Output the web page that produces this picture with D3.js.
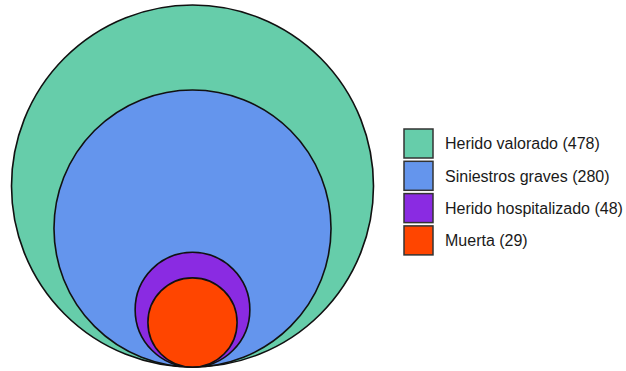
<!DOCTYPE html>
<html>
<head>
<meta charset="utf-8">
<script src="https://cdn.jsdelivr.net/npm/d3@7"></script>
<style>
  html, body { margin: 0; padding: 0; background: #fff; }
  svg { display: block; }
</style>
</head>
<body>
<svg id="chart" width="626" height="371"></svg>
<script>
// Nested, bottom-aligned circles: area proportional to each count
const categories = ["Herido valorado", "Siniestros graves", "Herido hospitalizado", "Muerta"];
const values = [478, 280, 48, 29];
const colors = ["#66CDAA", "#6495ED", "#8A2BE2", "#FF4500"];

const svg = d3.select("#chart");

const baseY = 367;      // shared bottom tangent
const centerX = 192.5;
const maxR = 181;

const r = d3.scaleSqrt()
  .domain([0, d3.max(values)])
  .range([0, maxR]);

const data = categories.map((c, i) => ({ name: c, value: values[i], color: colors[i] }));

svg.append("g")
  .selectAll("circle")
  .data(data)
  .join("circle")
  .attr("cx", centerX)
  .attr("cy", d => baseY - r(d.value))
  .attr("r", d => r(d.value))
  .attr("fill", d => d.color)
  .attr("stroke", "#111")
  .attr("stroke-width", 1.6);

// Legend
const legend = svg.append("g").attr("transform", "translate(404,129)");
const rowH = 32.3;
const rows = legend.selectAll("g")
  .data(data)
  .join("g")
  .attr("transform", (d, i) => `translate(0,${i * rowH})`);

rows.append("rect")
  .attr("width", 29)
  .attr("height", 29)
  .attr("fill", d => d.color)
  .attr("stroke", "#333")
  .attr("stroke-width", 1.5);

rows.append("text")
  .attr("x", 41)
  .attr("y", 14.5)
  .attr("dy", "0.36em")
  .attr("font-family", "Liberation Sans, Arial, sans-serif")
  .attr("font-size", 16)
  .attr("fill", "#1a1a1a")
  .text(d => `${d.name} (${d.value})`);
</script>
</body>
</html>
